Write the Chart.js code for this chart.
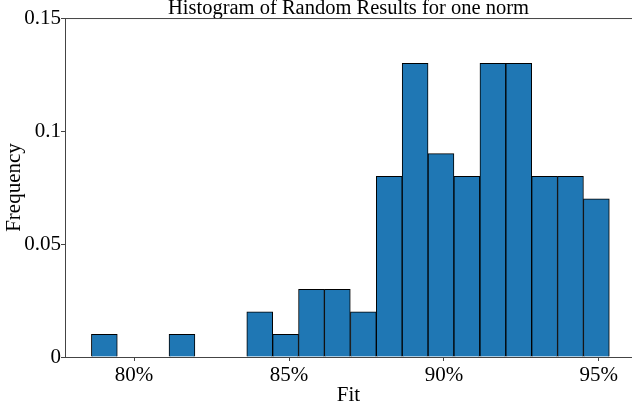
<!DOCTYPE html>
<html>
<head>
<meta charset="utf-8">
<script src="https://cdn.jsdelivr.net/npm/chart.js@4"></script>
<style>
  html, body { margin: 0; padding: 0; background: #fff; }
</style>
</head>
<body>
<canvas id="histChart" width="632" height="406"></canvas>
<script>
// histogram bins (in %), 20 bins -> 21 edges
var binEdges = [78.62, 79.46, 80.29, 81.13, 81.96, 82.80, 83.64, 84.47, 85.31, 86.14,
  86.98, 87.82, 88.65, 89.49, 90.32, 91.16, 92.00, 92.83, 93.67, 94.50, 95.34];
var frequency = [0.01, 0, 0, 0.01, 0, 0, 0.02, 0.01, 0.03, 0.03,
  0.02, 0.08, 0.13, 0.09, 0.08, 0.13, 0.13, 0.08, 0.08, 0.07];
var xTicks = [80, 85, 90, 95];
var yTicks = [0, 0.05, 0.1, 0.15];

var serif = "'Liberation Serif', 'Times New Roman', serif";
var axisColor = '#444';

// bar centers from the bin edges
var points = [];
for (var i = 0; i < frequency.length; i++) {
  points.push({x: (binEdges[i] + binEdges[i + 1]) / 2, y: frequency[i]});
}

// matplotlib keeps the top spine, draw it by hand
var topLine = {
  id: 'topLine',
  afterDraw: function(chart) {
    var ctx = chart.ctx;
    var a = chart.chartArea;
    ctx.save();
    ctx.strokeStyle = axisColor;
    ctx.lineWidth = 1;
    ctx.beginPath();
    ctx.moveTo(a.left, a.top + 0.5);
    ctx.lineTo(chart.width, a.top + 0.5);
    ctx.stroke();
    ctx.restore();
  }
};

var ctx = document.getElementById('histChart');
var histChart = new Chart(ctx, {
  type: 'bar',
  data: {
    datasets: [{
      data: points,
      backgroundColor: '#1f77b4',
      borderColor: '#000',
      borderWidth: 1,
      barPercentage: 1,
      categoryPercentage: 1,
      grouped: false
    }]
  },
  options: {
    responsive: false,
    devicePixelRatio: 1,
    animation: false,
    layout: {padding: 0},
    plugins: {
      legend: {display: false},
      tooltip: {enabled: false},
      title: {
        display: true,
        text: 'Histogram of Random Results for one norm',
        color: '#000',
        fullSize: false,
        font: {family: serif, size: 20.5, weight: 'normal', lineHeight: 0.88},
        padding: 0
      }
    },
    scales: {
      x: {
        type: 'linear',
        offset: false,
        min: 77.77,
        max: 96.07,
        afterBuildTicks: function(scale) {
          scale.ticks = xTicks.map(function(v) { return {value: v}; });
        },
        afterFit: function(scale) { scale.height = 49; },
        grid: {display: true, offset: false, drawOnChartArea: false, tickLength: 4, color: axisColor},
        border: {display: true, color: axisColor},
        ticks: {
          color: '#000',
          padding: 2,
          maxRotation: 0,
          font: {family: serif, size: 21},
          callback: function(v) { return v + '%'; }
        },
        title: {
          display: true,
          text: 'Fit',
          color: '#000',
          padding: {top: 0, bottom: -2},
          font: {family: serif, size: 21}
        }
      },
      y: {
        min: 0,
        max: 0.15,
        afterBuildTicks: function(scale) {
          scale.ticks = yTicks.map(function(v) { return {value: v}; });
        },
        afterFit: function(scale) { scale.width = 65; },
        grid: {display: true, drawOnChartArea: false, tickLength: 4, color: axisColor},
        border: {display: true, color: axisColor},
        ticks: {
          color: '#000',
          padding: 0,
          font: {family: serif, size: 21},
          callback: function(v) { return String(parseFloat(v.toFixed(2))); }
        },
        title: {
          display: true,
          text: 'Frequency',
          color: '#000',
          padding: {top: 2, bottom: 0},
          font: {family: serif, size: 21}
        }
      }
    }
  },
  plugins: [topLine]
});
</script>
</body>
</html>
